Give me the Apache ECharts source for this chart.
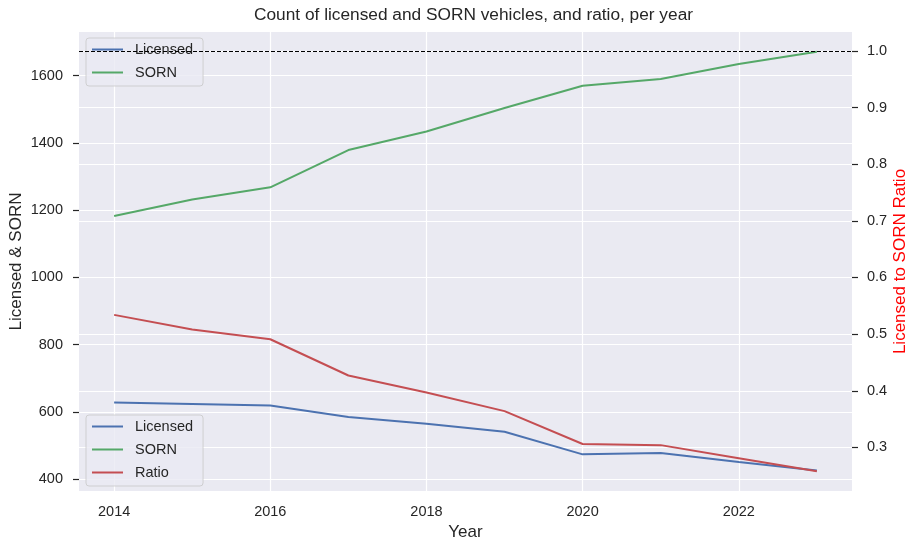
<!doctype html>
<html lang="en">
<head>
  <meta charset="UTF-8">
  <title>Licensed and SORN vehicles</title>
  <script src="https://cdn.jsdelivr.net/npm/echarts@6.0.0/dist/echarts.min.js"></script>
  <style>
    * {
      margin: 0;
      padding: 0;
    }

    #chart {
      width: 917px;
      height: 550px;
      background: #fff;
    }
  </style>
</head>
<body>
<div id="chart"></div>
<script>
  const years = [2014, 2015, 2016, 2017, 2018, 2019, 2020, 2021, 2022, 2023]
  const licensed = [628, 624, 619, 585, 565, 541, 474, 478, 451, 426]
  const sorn = [1183, 1232, 1268, 1379, 1434, 1504, 1570, 1590, 1635, 1671]
  const ratio = [0.534, 0.508, 0.491, 0.427, 0.397, 0.364, 0.306, 0.304, 0.281, 0.258]

  const xTicks = [2014, 2016, 2018, 2020, 2022]
  const leftTicks = [400, 600, 800, 1000, 1200, 1400, 1600]
  const rightTicks = [0.3, 0.4, 0.5, 0.6, 0.7, 0.8, 0.9, 1.0]

  const font = 'Liberation Sans, Arial, sans-serif'
  const ink = '#262626'

  function pairs(ys) {
    return years.map((y, i) => [y, ys[i]])
  }

  const legendStyle = {
    orient: 'vertical',
    icon: 'rect',
    itemWidth: 31,
    itemHeight: 2,
    itemGap: 8,
    padding: [4, 10, 6, 6],
    backgroundColor: 'rgba(234,234,242,0.8)',
    borderColor: 'rgba(200,200,200,0.8)',
    borderWidth: 1,
    borderRadius: 3,
    z: 3,
    textStyle: {fontFamily: font, fontSize: 14.5, color: ink, padding: [0, 0, 0, 7]}
  }

  const chart = echarts.init(document.getElementById('chart'))

  const option = {
    animation: false,
    title: {
      text: 'Count of licensed and SORN vehicles, and ratio, per year',
      left: 473.5,
      top: 7,
      padding: 0,
      textAlign: 'center',
      textStyle: {fontFamily: font, fontSize: 17.3, fontWeight: 'normal', color: ink}
    },
    legend: [
      Object.assign({}, legendStyle, {data: ['Licensed', 'SORN'], left: 86, top: 38}),
      Object.assign({}, legendStyle, {data: ['Licensed', 'SORN', 'Ratio'], left: 86, top: 415})
    ],
    grid: {
      left: 79,
      right: 65,
      top: 32,
      bottom: 59,
      outerBoundsMode: 'none',
      containLabel: false,
      show: true,
      backgroundColor: '#EAEAF2',
      borderWidth: 0
    },
    xAxis: {
      type: 'value',
      min: 2013.55,
      max: 2023.45,
      name: 'Year',
      nameLocation: 'middle',
      nameGap: 33,
      nameMoveOverlap: false,
      nameTextStyle: {fontFamily: font, fontSize: 17, color: ink},
      axisLine: {show: false},
      axisTick: {show: false, customValues: xTicks},
      axisLabel: {
        customValues: xTicks, margin: 13, fontFamily: font, fontSize: 14.5, color: ink,
        formatter: v => String(v)
      },
      splitLine: {show: true, lineStyle: {color: '#fff', width: 1.2}}
    },
    yAxis: [
      {
        type: 'value',
        position: 'left',
        min: 365,
        max: 1730,
        name: 'Licensed & SORN',
        nameLocation: 'middle',
        nameGap: 54,
        nameMoveOverlap: false,
        nameTextStyle: {fontFamily: font, fontSize: 17, color: ink},
        axisLine: {show: false},
        axisTick: {show: true, customValues: leftTicks, length: 6, lineStyle: {color: ink, width: 1.2}},
        axisLabel: {
          customValues: leftTicks, margin: 16, fontFamily: font, fontSize: 14.5, color: ink,
          formatter: v => String(v)
        },
        splitLine: {show: true, lineStyle: {color: '#fff', width: 1.2}}
      },
      {
        type: 'value',
        position: 'right',
        min: 0.223,
        max: 1.0335,
        name: 'Licensed to SORN Ratio',
        nameLocation: 'middle',
        nameRotate: 90,
        nameGap: 40,
        nameMoveOverlap: false,
        nameTextStyle: {fontFamily: font, fontSize: 17, color: 'red'},
        axisLine: {show: false},
        axisTick: {show: true, customValues: rightTicks, length: 6, lineStyle: {color: ink, width: 1.2}},
        axisLabel: {
          customValues: rightTicks, margin: 15, fontFamily: font, fontSize: 14.5, color: ink,
          formatter: v => v.toFixed(1)
        },
        splitLine: {show: true, lineStyle: {color: '#fff', width: 1.2}}
      }
    ],
    series: [
      {
        name: 'Licensed',
        type: 'line',
        yAxisIndex: 0,
        data: pairs(licensed),
        showSymbol: false,
        color: '#4C72B0',
        lineStyle: {width: 2}
      },
      {
        name: 'SORN',
        type: 'line',
        yAxisIndex: 0,
        data: pairs(sorn),
        showSymbol: false,
        color: '#55A868',
        lineStyle: {width: 2}
      },
      {
        name: 'Ratio',
        type: 'line',
        yAxisIndex: 1,
        data: pairs(ratio),
        showSymbol: false,
        color: '#C44E52',
        lineStyle: {width: 2},
        markLine: {
          z: 10,
          silent: true,
          symbol: 'none',
          label: {show: false},
          lineStyle: {color: '#000', width: 1, type: [4, 2]},
          data: [{yAxis: 1.0}]
        }
      }
    ]
  }
  chart.setOption(option)
</script>
</body>
</html>
